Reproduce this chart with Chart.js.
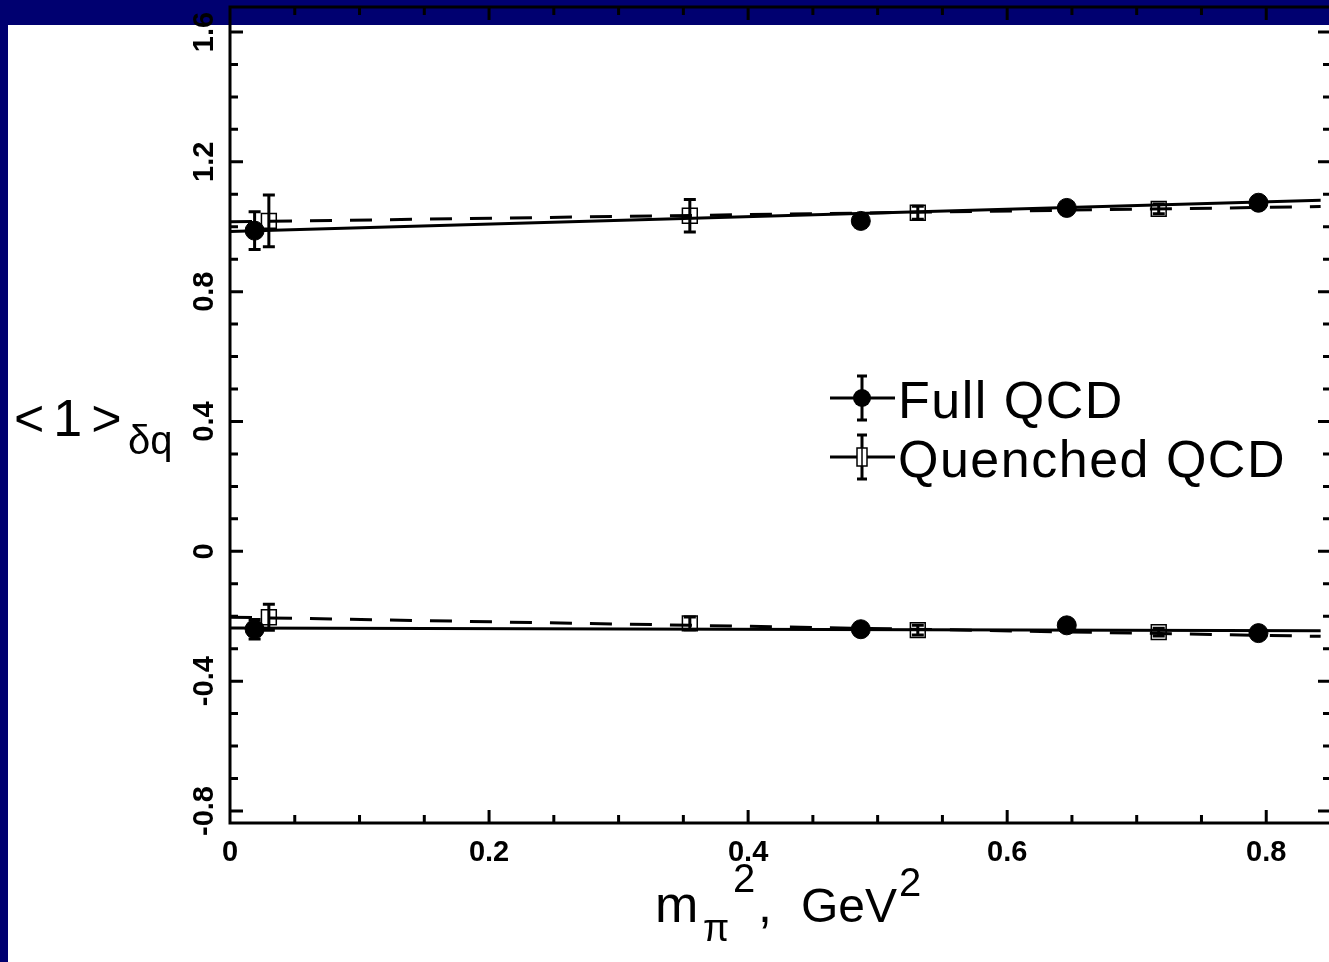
<!DOCTYPE html>
<html lang="en">
  <head>
    <meta charset="UTF-8" />
    <title>&lt;1&gt; delta q vs m_pi^2</title>
    <script src="https://cdn.jsdelivr.net/npm/chart.js@4.4.1/dist/chart.umd.min.js"></script>
    <style>
      html, body { margin: 0; padding: 0; overflow: hidden; background: #fff; }
      canvas { display: block; }
    </style>
  </head>
  <body>
    <canvas id="myChart" width="1332" height="962"></canvas>
    <script>
// data
const fullX = [0.019, 0.487, 0.646, 0.794];
const fullUpper = [0.988, 1.018, 1.058, 1.074];
const fullUpperErr = [0.058, 0.02, 0.012, 0.012];
const fullLower = [-0.240, -0.240, -0.228, -0.252];
const fullLowerErr = [0.03, 0.012, 0.012, 0.012];

const quenX = [0.030, 0.355, 0.531, 0.717];
const quenUpper = [1.018, 1.034, 1.043, 1.055];
const quenUpperErr = [0.08, 0.05, 0.02, 0.015];
const quenLower = [-0.203, -0.222, -0.243, -0.249];
const quenLowerErr = [0.04, 0.02, 0.015, 0.012];

// linear fits (end points)
const fitX = [0, 0.842];
const fullUpperFit = [0.985, 1.082];
const quenUpperFit = [1.015, 1.062];
const fullLowerFit = [-0.236, -0.245];
const quenLowerFit = [-0.203, -0.262];

const xTicks = [0, 0.2, 0.4, 0.6, 0.8];
const xTickLabels = ['0', '0.2', '0.4', '0.6', '0.8'];
const yTicks = [-0.8, -0.4, 0, 0.4, 0.8, 1.2, 1.6];
const yTickLabels = ['-0.8', '-0.4', '0', '0.4', '0.8', '1.2', '1.6'];

const pts = (xs, ys) => xs.map((x, i) => ({ x: x, y: ys[i] }));

const FONT = '"Liberation Sans", Arial, sans-serif';
const NAVY = '#000070';

const errorSets = [
  { xs: fullX, ys: fullUpper, es: fullUpperErr },
  { xs: fullX, ys: fullLower, es: fullLowerErr },
  { xs: quenX, ys: quenUpper, es: quenUpperErr },
  { xs: quenX, ys: quenLower, es: quenLowerErr }
];

const framePlugin = {
  id: 'frame',
  beforeDraw(chart) {
    const c = chart.ctx;
    c.save();
    c.fillStyle = '#fff';
    c.fillRect(0, 0, chart.width, chart.height);
    c.fillStyle = NAVY;
    c.fillRect(0, 0, chart.width, 25);
    c.fillRect(0, 0, 8, chart.height);
    c.restore();
  },
  beforeDatasetsDraw(chart) {
    // error bars
    const c = chart.ctx, xs = chart.scales.x, ys = chart.scales.y;
    c.save();
    c.strokeStyle = '#000';
    c.lineWidth = 3;
    errorSets.forEach(s => {
      s.xs.forEach((x, i) => {
        const px = xs.getPixelForValue(x);
        const top = ys.getPixelForValue(s.ys[i] + s.es[i]);
        const bot = ys.getPixelForValue(s.ys[i] - s.es[i]);
        c.beginPath();
        c.moveTo(px, top); c.lineTo(px, bot);
        c.moveTo(px - 6, top); c.lineTo(px + 6, top);
        c.moveTo(px - 6, bot); c.lineTo(px + 6, bot);
        c.stroke();
      });
    });
    c.restore();
  },
  afterDraw(chart) {
    const c = chart.ctx, a = chart.chartArea;
    const xs = chart.scales.x, ys = chart.scales.y;
    c.save();
    c.strokeStyle = '#000';
    c.fillStyle = '#000';

    // frame
    c.lineWidth = 3;
    c.strokeRect(a.left, a.top, a.right - a.left, a.bottom - a.top);

    // ticks, inward on all four sides
    c.lineWidth = 3;
    c.beginPath();
    for (let k = 0; k <= 17; k++) {
      const v = k * 0.05;
      const px = xs.getPixelForValue(v);
      if (px <= a.left + 1 || px >= a.right - 1) continue;
      const len = (k % 4 === 0) ? 13 : 8;
      c.moveTo(px, a.bottom); c.lineTo(px, a.bottom - len);
      c.moveTo(px, a.top); c.lineTo(px, a.top + len);
    }
    for (let k = -8; k <= 16; k++) {
      const v = k * 0.1;
      const py = ys.getPixelForValue(v);
      if (py >= a.bottom - 1 || py <= a.top + 1) continue;
      const len = (k % 4 === 0) ? 13 : 8;
      c.moveTo(a.left, py); c.lineTo(a.left + len, py);
      c.moveTo(a.right, py); c.lineTo(a.right - len, py);
    }
    c.stroke();

    // tick labels
    c.font = 'bold 29px ' + FONT;
    c.textAlign = 'center';
    c.textBaseline = 'top';
    xTicks.forEach((v, i) => {
      c.fillText(xTickLabels[i], xs.getPixelForValue(v), a.bottom + 15);
    });
    yTicks.forEach((v, i) => {
      c.save();
      c.translate(a.left - 25, ys.getPixelForValue(v));
      c.rotate(-Math.PI / 2);
      c.textBaseline = 'middle';
      c.fillText(yTickLabels[i], 0, 0);
      c.restore();
    });

    // axis titles
    c.textAlign = 'left';
    c.textBaseline = 'alphabetic';
    c.font = '52px ' + FONT;
    c.letterSpacing = '9px';
    c.fillText('<1>', 14, 436);
    c.letterSpacing = '0px';
    c.font = '40px ' + FONT;
    c.fillText('δq', 128, 454);

    c.font = '52px ' + FONT;
    c.fillText('m', 655, 922);
    c.font = '38px ' + FONT;
    c.fillText('π', 703, 941);
    c.font = '40px ' + FONT;
    c.fillText('2', 733, 892);
    c.font = '50px ' + FONT;
    c.fillText(',', 758, 922);
    c.font = '48px ' + FONT;
    c.fillText('GeV', 801, 922);
    c.font = '40px ' + FONT;
    c.fillText('2', 899, 896);

    // legend
    const lx0 = 830, lx1 = 895, lmx = 862;
    const rows = [{ y: 398, label: 'Full QCD', full: true }, { y: 457, label: 'Quenched QCD', full: false }];
    rows.forEach(r => {
      c.lineWidth = 3;
      c.beginPath();
      c.moveTo(lx0, r.y); c.lineTo(lx1, r.y);
      c.moveTo(lmx, r.y - 22); c.lineTo(lmx, r.y + 22);
      c.moveTo(lmx - 5, r.y - 22); c.lineTo(lmx + 5, r.y - 22);
      c.moveTo(lmx - 5, r.y + 22); c.lineTo(lmx + 5, r.y + 22);
      c.stroke();
      if (r.full) {
        c.beginPath();
        c.arc(lmx, r.y, 9, 0, Math.PI * 2);
        c.fill();
      } else {
        c.fillStyle = '#fff';
        c.fillRect(lmx - 5, r.y - 9, 10, 18);
        c.fillStyle = '#000';
        c.lineWidth = 1.5;
        c.strokeRect(lmx - 5, r.y - 9, 10, 18);
        c.beginPath();
        c.moveTo(lmx, r.y - 9); c.lineTo(lmx, r.y + 9);
        c.stroke();
      }
      c.font = '52px ' + FONT;
      c.letterSpacing = '1.5px';
      c.textBaseline = 'alphabetic';
      c.fillText(r.label, 898, r.y + 20);
      c.letterSpacing = '0px';
    });
    c.restore();
  }
};

const ctx = document.getElementById('myChart').getContext('2d');
const myChart = new Chart(ctx, {
  type: 'scatter',
  data: {
    datasets: [
      { type: 'line', label: 'Full fit upper', data: pts(fitX, fullUpperFit), borderColor: '#000', borderWidth: 3, pointRadius: 0, fill: false },
      { type: 'line', label: 'Quenched fit upper', data: pts(fitX, quenUpperFit), borderColor: '#000', borderWidth: 3, borderDash: [22, 18], pointRadius: 0, fill: false },
      { type: 'line', label: 'Full fit lower', data: pts(fitX, fullLowerFit), borderColor: '#000', borderWidth: 3, pointRadius: 0, fill: false },
      { type: 'line', label: 'Quenched fit lower', data: pts(fitX, quenLowerFit), borderColor: '#000', borderWidth: 3, borderDash: [22, 18], pointRadius: 0, fill: false },
      { label: 'Full QCD', data: pts(fullX, fullUpper).concat(pts(fullX, fullLower)), pointStyle: 'circle', pointRadius: 9.5, backgroundColor: '#000', borderColor: '#000', borderWidth: 1 },
      { label: 'Quenched QCD', data: pts(quenX, quenUpper).concat(pts(quenX, quenLower)), pointStyle: 'rect', pointRadius: 10.5, backgroundColor: 'rgba(255,255,255,0)', borderColor: '#000', borderWidth: 1.5 }
    ]
  },
  options: {
    responsive: false,
    animation: false,
    events: [],
    layout: { autoPadding: false, padding: { left: 230, top: 7, right: 1, bottom: 139 } },
    plugins: { legend: { display: false }, tooltip: { enabled: false } },
    scales: {
      x: { type: 'linear', display: false, min: 0, max: 0.85 },
      y: { type: 'linear', display: false, min: -0.837, max: 1.677 }
    }
  },
  plugins: [framePlugin]
});
    </script>
  </body>
</html>
